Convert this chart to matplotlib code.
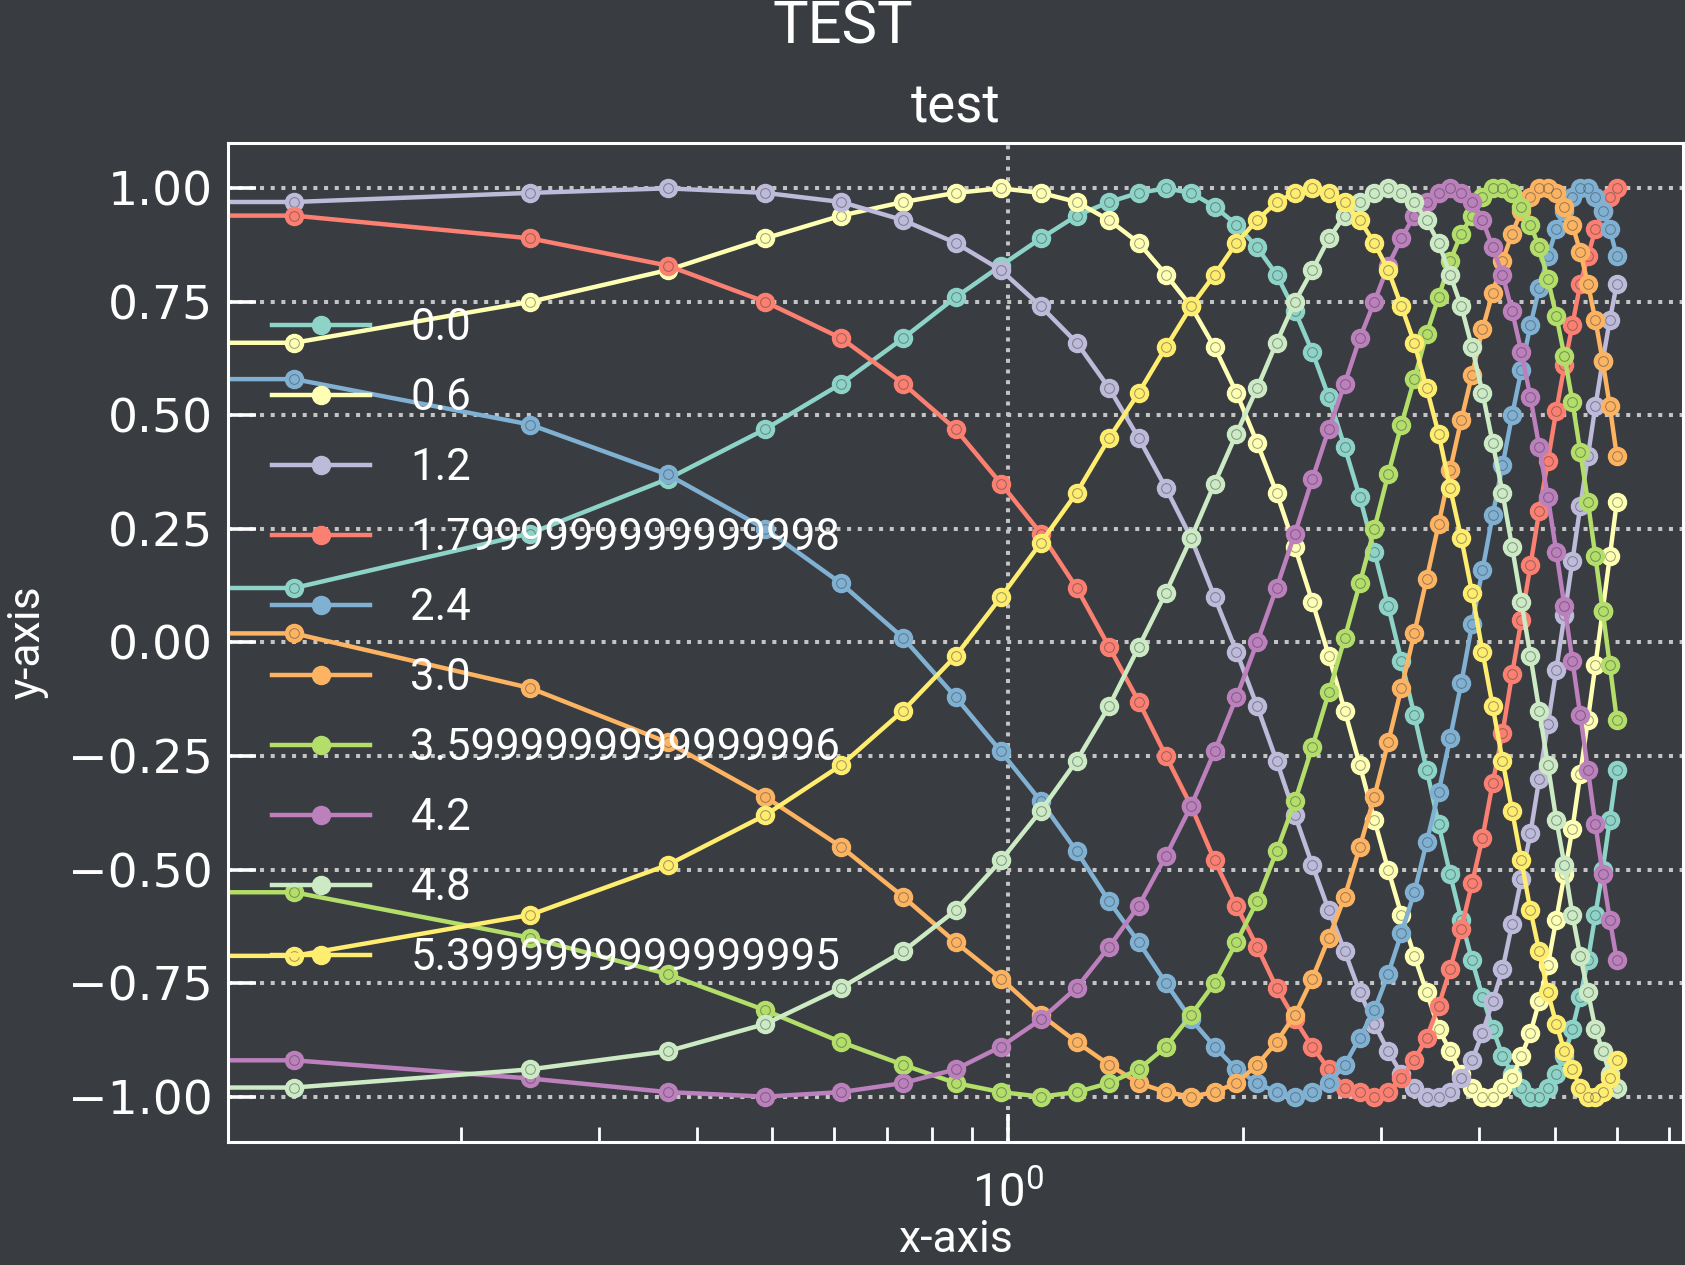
import matplotlib
matplotlib.use("Agg")
import matplotlib.pyplot as plt

plt.rcParams["font.family"] = ["Roboto", "DejaVu Sans"]
plt.rcParams["mathtext.fontset"] = "custom"
plt.rcParams["mathtext.rm"] = "Inter"
plt.rcParams["mathtext.it"] = "Inter"

# x positions (log axis, first point at 0 falls off the scale)
x = [0.0, 0.1224, 0.2449, 0.3673, 0.4898, 0.6122, 0.7347, 0.8571, 0.9796, 1.1020,
     1.2245, 1.3469, 1.4694, 1.5918, 1.7143, 1.8367, 1.9592, 2.0816, 2.2041, 2.3265,
     2.4490, 2.5714, 2.6939, 2.8163, 2.9388, 3.0612, 3.1837, 3.3061, 3.4286, 3.5510,
     3.6735, 3.7959, 3.9184, 4.0408, 4.1633, 4.2857, 4.4082, 4.5306, 4.6531, 4.7755,
     4.8980, 5.0204, 5.1429, 5.2653, 5.3878, 5.5102, 5.6327, 5.7551, 5.8776, 6.0]

y_00 = [0.00, 0.12, 0.24, 0.36, 0.47, 0.57, 0.67, 0.76, 0.83, 0.89,
        0.94, 0.97, 0.99, 1.00, 0.99, 0.96, 0.92, 0.87, 0.81, 0.73,
        0.64, 0.54, 0.43, 0.32, 0.20, 0.08, -0.04, -0.16, -0.28, -0.40,
        -0.51, -0.61, -0.70, -0.78, -0.85, -0.91, -0.95, -0.98, -1.00, -1.00,
        -0.98, -0.95, -0.91, -0.85, -0.78, -0.70, -0.60, -0.50, -0.39, -0.28]
y_06 = [0.56, 0.66, 0.75, 0.82, 0.89, 0.94, 0.97, 0.99, 1.00, 0.99,
        0.97, 0.93, 0.88, 0.81, 0.74, 0.65, 0.55, 0.44, 0.33, 0.21,
        0.09, -0.03, -0.15, -0.27, -0.39, -0.50, -0.60, -0.69, -0.77, -0.85,
        -0.90, -0.95, -0.98, -1.00, -1.00, -0.98, -0.96, -0.91, -0.86, -0.79,
        -0.71, -0.61, -0.51, -0.41, -0.29, -0.17, -0.05, 0.07, 0.19, 0.31]
y_12 = [0.93, 0.97, 0.99, 1.00, 0.99, 0.97, 0.93, 0.88, 0.82, 0.74,
        0.66, 0.56, 0.45, 0.34, 0.23, 0.10, -0.02, -0.14, -0.26, -0.38,
        -0.49, -0.59, -0.68, -0.77, -0.84, -0.90, -0.95, -0.98, -1.00, -1.00,
        -0.99, -0.96, -0.92, -0.86, -0.79, -0.72, -0.62, -0.52, -0.42, -0.30,
        -0.18, -0.06, 0.06, 0.18, 0.30, 0.41, 0.52, 0.62, 0.71, 0.79]
y_18 = [0.97, 0.94, 0.89, 0.83, 0.75, 0.67, 0.57, 0.47, 0.35, 0.24,
        0.12, -0.01, -0.13, -0.25, -0.36, -0.48, -0.58, -0.67, -0.76, -0.83,
        -0.89, -0.94, -0.98, -0.99, -1.00, -0.99, -0.96, -0.92, -0.87, -0.80,
        -0.72, -0.63, -0.53, -0.43, -0.31, -0.20, -0.07, 0.05, 0.17, 0.29,
        0.40, 0.51, 0.61, 0.70, 0.79, 0.85, 0.91, 0.95, 0.98, 1.00]
y_24 = [0.68, 0.58, 0.48, 0.37, 0.25, 0.13, 0.01, -0.12, -0.24, -0.35,
        -0.46, -0.57, -0.66, -0.75, -0.83, -0.89, -0.94, -0.97, -0.99, -1.00,
        -0.99, -0.97, -0.93, -0.87, -0.81, -0.73, -0.64, -0.55, -0.44, -0.33,
        -0.21, -0.09, 0.04, 0.16, 0.28, 0.39, 0.50, 0.60, 0.70, 0.78,
        0.85, 0.91, 0.95, 0.98, 1.00, 1.00, 0.98, 0.95, 0.91, 0.85]
y_30 = [0.14, 0.02, -0.10, -0.22, -0.34, -0.45, -0.56, -0.66, -0.74, -0.82,
        -0.88, -0.93, -0.97, -0.99, -1.00, -0.99, -0.97, -0.93, -0.88, -0.82,
        -0.74, -0.65, -0.56, -0.45, -0.34, -0.22, -0.10, 0.02, 0.14, 0.26,
        0.38, 0.49, 0.59, 0.69, 0.77, 0.84, 0.90, 0.95, 0.98, 1.00,
        1.00, 0.99, 0.96, 0.92, 0.86, 0.79, 0.71, 0.62, 0.52, 0.41]
y_36 = [-0.44, -0.55, -0.65, -0.73, -0.81, -0.88, -0.93, -0.97, -0.99, -1.00,
        -0.99, -0.97, -0.94, -0.89, -0.82, -0.75, -0.66, -0.57, -0.46, -0.35,
        -0.23, -0.11, 0.01, 0.13, 0.25, 0.37, 0.48, 0.58, 0.68, 0.76,
        0.84, 0.90, 0.94, 0.98, 1.00, 1.00, 0.99, 0.96, 0.92, 0.87,
        0.80, 0.72, 0.63, 0.53, 0.42, 0.31, 0.19, 0.07, -0.05, -0.17]
y_42 = [-0.87, -0.92, -0.96, -0.99, -1.00, -0.99, -0.97, -0.94, -0.89, -0.83,
        -0.76, -0.67, -0.58, -0.47, -0.36, -0.24, -0.12, 0.00, 0.12, 0.24,
        0.36, 0.47, 0.57, 0.67, 0.75, 0.83, 0.89, 0.94, 0.97, 0.99,
        1.00, 0.99, 0.97, 0.93, 0.87, 0.81, 0.73, 0.64, 0.54, 0.43,
        0.32, 0.20, 0.08, -0.04, -0.16, -0.28, -0.40, -0.51, -0.61, -0.70]
y_48 = [-1.00, -0.98, -0.94, -0.90, -0.84, -0.76, -0.68, -0.59, -0.48, -0.37,
        -0.26, -0.14, -0.01, 0.11, 0.23, 0.35, 0.46, 0.56, 0.66, 0.75,
        0.82, 0.89, 0.94, 0.97, 0.99, 1.00, 0.99, 0.97, 0.93, 0.88,
        0.81, 0.74, 0.65, 0.55, 0.44, 0.33, 0.21, 0.09, -0.03, -0.15,
        -0.27, -0.39, -0.49, -0.60, -0.69, -0.77, -0.85, -0.90, -0.95, -0.98]
y_54 = [-0.77, -0.69, -0.60, -0.49, -0.38, -0.27, -0.15, -0.03, 0.10, 0.22,
        0.33, 0.45, 0.55, 0.65, 0.74, 0.81, 0.88, 0.93, 0.97, 0.99,
        1.00, 0.99, 0.97, 0.93, 0.88, 0.82, 0.74, 0.66, 0.56, 0.46,
        0.34, 0.23, 0.11, -0.02, -0.14, -0.26, -0.37, -0.48, -0.59, -0.68,
        -0.77, -0.84, -0.90, -0.94, -0.98, -1.00, -1.00, -0.99, -0.96, -0.92]

series = [y_00, y_06, y_12, y_18, y_24, y_30, y_36, y_42, y_48, y_54]
labels = ["0.0", "0.6", "1.2", "1.7999999999999998", "2.4", "3.0",
          "3.5999999999999996", "4.2", "4.8", "5.3999999999999995"]
colors = ["#8dd3c7", "#ffffb3", "#bebada", "#fb8072", "#80b1d3",
          "#fdb462", "#b3de69", "#bc80bd", "#ccebc5", "#ffed6f"]

bg = "#393c41"
fig = plt.figure(figsize=(16.85, 12.65), dpi=100, facecolor=bg)
ax = fig.add_axes([0.1353, 0.0972, 0.8635, 0.7898], facecolor=bg)
ax.set_xscale("log")

for ys, lab, c in zip(series, labels, colors):
    ax.plot(x, ys, "-o", color=c, lw=3.2, ms=13, mfc=c, mec=c, label=lab)
    # faint inner ring on each marker
    ax.plot(x, ys, "o", ls="none", ms=7, mfc="none", mec=bg, mew=0.7, alpha=0.5)

ax.grid(True, which="major", ls=":", lw=2.9, color="#c4c4c4")

for s in ax.spines.values():
    s.set_color("white")
    s.set_linewidth(2.2)

ax.tick_params(axis="both", which="major", direction="in", length=20, width=2.6,
               colors="white", labelsize=34, pad=11)
ax.tick_params(axis="x", which="minor", direction="in", length=11, width=2.0,
               colors="white")
ax.tick_params(axis="x", which="major", pad=20)
for t in ax.get_yticklabels():
    t.set_family("DejaVu Sans")

ax.set_title("test", fontsize=38, color="white", pad=15)
fig.text(0.5, 1 - 43 / 1265, "TEST", ha="center", va="baseline",
         fontsize=43, color="white")

ax.set_xlabel("x-axis", fontsize=32, color="white")
ax.xaxis.set_label_coords(0.5, -0.110)
ax.xaxis.label.set_va("baseline")
ax.set_ylabel("y-axis", fontsize=32, color="white")
ax.yaxis.set_label_coords(-0.138, 0.5)
ax.yaxis.label.set_va("center")

leg = ax.legend(loc="upper left", bbox_to_anchor=(0.03, 0.8357), frameon=False,
                fontsize=31.5, handlelength=2.25, handletextpad=0.92,
                labelspacing=0.64, borderaxespad=0, borderpad=0)
for t in leg.get_texts():
    t.set_color("white")

fig.savefig("out.png", dpi=100, facecolor=bg)
